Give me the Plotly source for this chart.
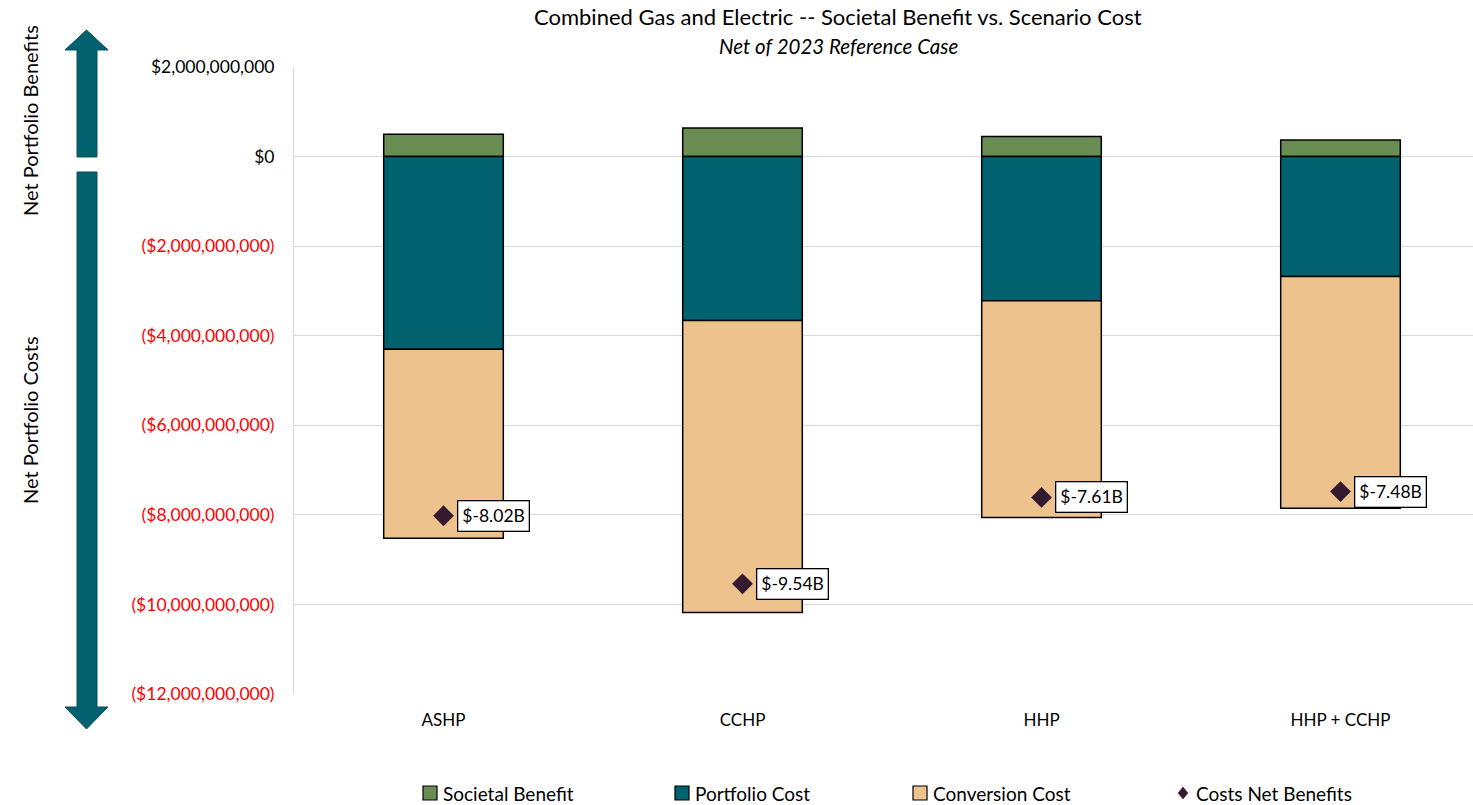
import plotly.graph_objects as go

# Scenario categories and component values (US dollars)
categories = ["ASHP", "CCHP", "HHP", "HHP + CCHP"]
societal_benefit = [0.50e9, 0.64e9, 0.45e9, 0.37e9]
portfolio_cost = [-4.30e9, -3.66e9, -3.22e9, -2.68e9]
conversion_cost = [-4.22e9, -6.52e9, -4.84e9, -5.17e9]
costs_net_benefits = [-8.02e9, -9.54e9, -7.61e9, -7.48e9]

tick_values = [2e9, 0, -2e9, -4e9, -6e9, -8e9, -10e9, -12e9]
series_names = ["Societal Benefit", "Portfolio Cost", "Conversion Cost", "Costs Net Benefits"]

FONT = "Lato"
GREEN = "#6A8D53"
TEAL = "#00626E"
TAN = "#EEC28D"
PLUM = "#331A2E"
W, H = 1473, 805
L, R, T, B = 294, 0, 67, 111
plot_w = W - L - R
plot_h = H - T - B
cat_px = 299.0


def px(xp):
    return (xp - L) / plot_w


def py(yp):
    return 1 - (yp - T) / plot_h


def money_label(v):
    if v < 0:
        return '<span style="color:#FF0000">(${:,.0f})</span>'.format(-v)
    return "${:,.0f}".format(v)


fig = go.Figure()
bar_line = dict(color="#000000", width=1.5)
fill_colors = [GREEN, TEAL, TAN]
for name, vals, col in zip(series_names[:3], [societal_benefit, portfolio_cost, conversion_cost], fill_colors):
    fig.add_trace(go.Bar(x=categories, y=vals, name=name,
                         marker=dict(color=col, line=bar_line), width=0.4))
fig.add_trace(go.Scatter(x=categories, y=costs_net_benefits, name=series_names[3],
                         mode="markers",
                         marker=dict(symbol="diamond", size=16, color=PLUM)))

# Value call-outs beside each diamond
for c, v in zip(categories, costs_net_benefits):
    fig.add_annotation(x=c, y=v, xref="x", yref="y", text="$-{:.2f}B".format(-v / 1e9),
                       showarrow=False, xanchor="left", yanchor="middle", xshift=13,
                       font=dict(family=FONT, size=17.5, color="#000000"),
                       bgcolor="#FFFFFF", bordercolor="#000000", borderwidth=1.3,
                       borderpad=4)


def path_from(points):
    return "M " + " L ".join("{:.5f},{:.5f}".format(px(a), py(b)) for a, b in points) + " Z"


def margin_text(x, y, text, size, angle=0, xanchor="center", italic=False):
    fig.add_annotation(x=px(x), y=py(y), xref="paper", yref="paper",
                       text="<i>{}</i>".format(text) if italic else text,
                       textangle=angle, showarrow=False, xanchor=xanchor, yanchor="middle",
                       font=dict(family=FONT, size=size, color="#000000"))


# Direction arrows on the left margin
up_arrow = [(77, 157), (77, 50), (65, 50), (86.5, 30), (108, 50), (97, 50), (97, 157)]
down_arrow = [(77, 172), (77, 707), (65, 707), (86.5, 729), (108, 707), (97, 707), (97, 172)]
for pts in (up_arrow, down_arrow):
    fig.add_shape(type="path", path=path_from(pts), xref="paper", yref="paper",
                  fillcolor=TEAL, line=dict(color="#0B4F57", width=1), layer="above")

margin_text(30, 121, "Net Portfolio Benefits", 20, angle=-90)
margin_text(30, 420, "Net Portfolio Costs", 20, angle=-90)

# Title and subtitle
margin_text(838, 17, "Combined Gas and Electric -- Societal Benefit vs. Scenario Cost", 22)
margin_text(838, 46, "Net of 2023 Reference Case", 20.5, italic=True)

# Legend row along the bottom
legend_y = 793
legend_x = [430, 682, 920, 1183]
legend_fill = [GREEN, TEAL, TAN, PLUM]
for i, (name, cx, col) in enumerate(zip(series_names, legend_x, legend_fill)):
    if i < 3:
        fig.add_shape(type="rect", xref="paper", yref="paper",
                      x0=px(cx - 7), x1=px(cx + 7), y0=py(legend_y + 7), y1=py(legend_y - 7),
                      fillcolor=col, line=dict(color="#000000", width=1.2))
    else:
        fig.add_shape(type="path", xref="paper", yref="paper",
                      path=path_from([(cx, legend_y - 6), (cx + 5, legend_y), (cx, legend_y + 6), (cx - 5, legend_y)]),
                      fillcolor=col, line=dict(color=col, width=0.5))
    margin_text(cx + 11, legend_y, name, 19, xanchor="left")

fig.update_layout(
    width=W, height=H,
    margin=dict(l=L, r=R, t=T, b=B, pad=0),
    barmode="relative",
    plot_bgcolor="#FFFFFF", paper_bgcolor="#FFFFFF",
    font=dict(family=FONT, size=17, color="#000000"),
    showlegend=False,
)
fig.update_xaxes(range=[-0.5, -0.5 + plot_w / cat_px], showgrid=False, showline=False,
                 zeroline=False, ticks="", tickfont=dict(family=FONT, size=17),
                 ticklabelstandoff=14)
fig.update_yaxes(range=[-12e9, 2e9], tickvals=tick_values,
                 ticktext=[money_label(v) for v in tick_values],
                 showgrid=True, gridcolor="#D9D9D9", gridwidth=1,
                 zeroline=True, zerolinecolor="#D9D9D9", zerolinewidth=1,
                 showline=True, linecolor="#D9D9D9", linewidth=1,
                 ticks="", ticklabelstandoff=15, tickfont=dict(family=FONT, size=17.5))

fig.write_html("out.html")
